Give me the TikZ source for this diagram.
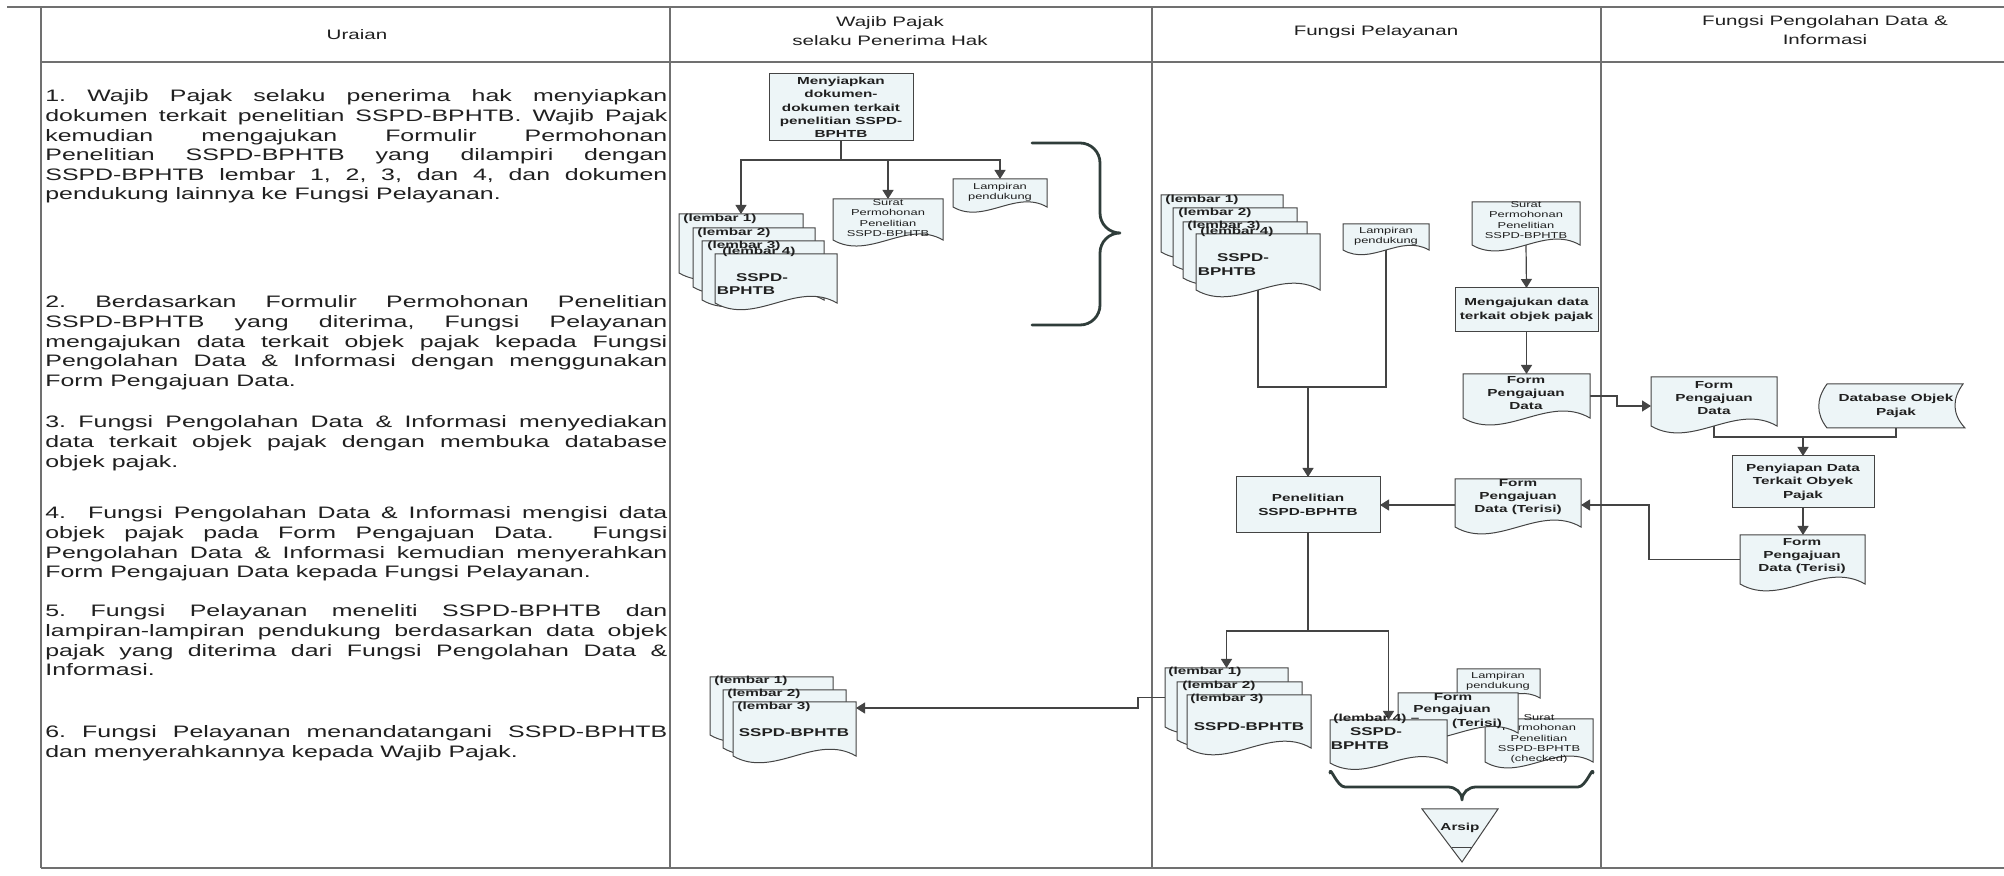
\documentclass[tikz,border=0pt]{standalone}
\usepackage{fontspec}
\setmainfont{Liberation Sans}[FakeStretch=1.5]
\usetikzlibrary{arrows.meta,calc}
\pgfdeclarelayer{bgfill}
\pgfdeclarelayer{background}
\pgfsetlayers{bgfill,background,main}
\definecolor{lncol}{HTML}{444444}
\definecolor{tbl}{HTML}{707070}
\definecolor{boxfill}{HTML}{EDF5F7}
\definecolor{txt}{HTML}{202020}
\definecolor{brc}{HTML}{2F3D3A}
\hbadness=10000 \hfuzz=60pt
\frenchspacing
\newcommand\bodyf{\fontsize{8.3pt}{9.8pt}\selectfont}
\newcommand\headf{\fontsize{6.85pt}{9.5pt}\selectfont}
\newcommand\boxf{\bfseries\fontsize{5.1pt}{6.7pt}\selectfont}
\newcommand\labf{\bfseries\fontsize{5.1pt}{6pt}\selectfont}
\newcommand\ssf{\bfseries\fontsize{5.65pt}{6.8pt}\selectfont}
\newcommand\smf{\fontsize{4.3pt}{5.2pt}\selectfont}
\newlength\colw \setlength\colw{311pt}
\newcommand\jline[1]{\hbox to \colw{#1}}
\newcommand\lline[1]{\hbox to \colw{#1\hfil}}
\newcommand\parablock[1]{\vtop{\baselineskip=9.8pt\lineskiplimit=-20pt #1}}
% rectangle process box
\newcommand\rbox[6]{\node[boxst, minimum width={(#4-#2)*0.5pt}, minimum height={(#5-#3)*0.5pt}] (#1) at ({(#2+#4)/2},{(#3+#5)/2}) {#6};}
% document shape (wavy bottom) with an empty named node covering its rectangle
\newcommand\docn[5]{%
  \filldraw[docst] (#2,#3) -- (#4,#3) -- (#4,#5) .. controls ({#2+0.67*(#4-#2)},{#5-0.19*(#4-#2)}) and ({#2+0.33*(#4-#2)},{#5+0.19*(#4-#2)}) .. (#2,#5) -- cycle;
  \node[inner sep=0, outer sep=0, minimum width={(#4-#2)*0.5pt}, minimum height={(#5-#3)*0.5pt}] (#1) at ({(#2+#4)/2},{(#3+#5)/2}) {};}
\tikzset{
  ln/.style={draw=lncol, line width=0.6pt},
  arr/.style={ln, -{Triangle[length=4.5pt,width=5.5pt]}},
  docst/.style={draw=lncol, line width=0.5pt, fill=boxfill},
  boxst/.style={draw=lncol, line width=0.5pt, fill=boxfill, inner sep=0, outer sep=0, align=center, text=txt, font=\boxf},
  tb/.style={inner sep=0, align=center, text=txt, font=\boxf},
  lb/.style={inner sep=0, anchor=west, text=txt, font=\labf},
  ss/.style={inner sep=0, text=txt, font=\ssf},
  sm/.style={inner sep=0, align=center, text=txt, font=\smf},
  hd/.style={inner sep=0, align=center, text=txt, font=\headf},
  ut/.style={inner sep=0, anchor=base west, text=txt, font=\bodyf},
  bracest/.style={draw=brc, line width=1.4pt, line cap=round, line join=round},
}
\begin{document}
\begin{tikzpicture}[x=0.5pt,y=-0.5pt]
\useasboundingbox (0,0) rectangle (2004,876);
\begin{pgfonlayer}{bgfill}
\fill[white] (0,0) rectangle (2004,876);
\end{pgfonlayer}

% ---------- header ----------
\node[hd] (h1) at (357,35) {Uraian};
\node[hd] (h2) at (890,31) {Wajib Pajak\\selaku Penerima Hak};
\node[hd] (h3) at (1376,32) {Fungsi Pelayanan};
\node[hd] (h4) at (1825,30) {Fungsi Pengolahan Data \&\\Informasi};

% ---------- Uraian ----------
\node[ut] (u1) at (45,102) {\parablock{%
\jline{1. Wajib Pajak selaku penerima hak menyiapkan}
\jline{dokumen terkait penelitian SSPD-BPHTB. Wajib Pajak}
\jline{kemudian mengajukan Formulir Permohonan}
\jline{Penelitian SSPD-BPHTB yang dilampiri dengan}
\jline{SSPD-BPHTB lembar 1, 2, 3, dan 4, dan dokumen}
\lline{pendukung lainnya ke Fungsi Pelayanan.}}};
\node[ut] (u2) at (45,308) {\parablock{%
\jline{2. Berdasarkan Formulir Permohonan Penelitian}
\jline{SSPD-BPHTB yang diterima, Fungsi Pelayanan}
\jline{mengajukan data terkait objek pajak kepada Fungsi}
\jline{Pengolahan Data \& Informasi dengan menggunakan}
\lline{Form Pengajuan Data.}}};
\node[ut] (u3) at (45,428) {\parablock{%
\jline{3. Fungsi Pengolahan Data \& Informasi menyediakan}
\jline{data terkait objek pajak dengan membuka database}
\lline{objek pajak.}}};
\node[ut] (u4) at (45,519) {\parablock{%
\jline{4.\ \ Fungsi Pengolahan Data \& Informasi mengisi data}
\jline{objek pajak pada Form Pengajuan Data.\ \ Fungsi}
\jline{Pengolahan Data \& Informasi kemudian menyerahkan}
\lline{Form Pengajuan Data kepada Fungsi Pelayanan.}}};
\node[ut] (u5) at (45,617) {\parablock{%
\jline{5. Fungsi Pelayanan meneliti SSPD-BPHTB dan}
\jline{lampiran-lampiran pendukung berdasarkan data objek}
\jline{pajak yang diterima dari Fungsi Pengolahan Data \&}
\lline{Informasi.}}};
\node[ut] (u6) at (45,738) {\parablock{%
\jline{6. Fungsi Pelayanan menandatangani SSPD-BPHTB}
\lline{dan menyerahkannya kepada Wajib Pajak.}}};

% ---------- Wajib Pajak (top) ----------
\rbox{prep}{769}{74}{913}{141}{Menyiapkan\\dokumen-\\dokumen terkait\\penelitian SSPD-\\BPHTB}
\docn{w1}{679}{214}{803}{273}
\node[lb] (w1t) at (683,219) {(lembar 1)};
\docn{w2}{693}{228}{815}{287}
\node[lb] (w2t) at (697,233) {(lembar 2)};
\docn{w3}{702}{241}{824}{300}
\node[lb] (w3t) at (707,246) {(lembar 3)};
\docn{w4}{715}{254}{837}{303}
\node[lb] (w4t) at (722,252) {(lembar 4)};
\node[ss] (w4a) at (762,278) {SSPD-};
\node[ss] (w4b) at (746,291) {BPHTB};
\docn{wsurat}{833}{199}{943}{240}
\node[sm] (wsurat-t) at (888,218) {Surat\\Permohonan\\Penelitian\\SSPD-BPHTB};
\docn{wlamp}{953}{179}{1047}{207}
\node[sm] (wlamp-t) at (1000,192) {Lampiran\\pendukung};
\coordinate (wj) at (841,160);
\draw[bracest] (1032,143) -- (1080,143) to[out=0,in=90] (1100,163) -- (1100,213)
  to[out=-90,in=180] (1120,233) to[out=180,in=90] (1100,253) -- (1100,305)
  to[out=-90,in=0] (1080,325) -- (1032,325);

% ---------- Wajib Pajak (bottom) ----------
\docn{r1}{710}{677}{833}{735}
\node[lb] (r1t) at (714,681) {(lembar 1)};
\docn{r2}{723}{690}{846}{748}
\node[lb] (r2t) at (727,694) {(lembar 2)};
\docn{r3}{733}{702}{856}{756}
\node[lb] (r3t) at (737,707) {(lembar 3)};
\node[ss] (r3s) at (794,733) {SSPD-BPHTB};

% ---------- Fungsi Pelayanan (top) ----------
\docn{p1}{1161}{195}{1283}{252}
\node[lb] (p1t) at (1165,200) {(lembar 1)};
\docn{p2}{1173}{208}{1297}{265}
\node[lb] (p2t) at (1178,213) {(lembar 2)};
\docn{p3}{1183}{222}{1307}{278}
\node[lb] (p3t) at (1187,226) {(lembar 3)};
\docn{p4}{1196}{234}{1320}{290}
\node[lb] (p4t) at (1200,232) {(lembar 4)};
\node[ss] (p4a) at (1243,258) {SSPD-};
\node[ss] (p4b) at (1227,272) {BPHTB};
\docn{plamp}{1343}{224}{1429}{250}
\node[sm] (plamp-t) at (1386,236) {Lampiran\\pendukung};
\docn{psurat}{1472}{202}{1580}{245}
\node[sm] (psurat-t) at (1526,220) {Surat\\Permohonan\\Penelitian\\SSPD-BPHTB};
\rbox{paju}{1455}{288}{1598}{332}{Mengajukan data\\terkait objek pajak}
\docn{pform}{1463}{374}{1590}{418}
\node[tb] (pform-t) at (1526,393) {Form\\Pengajuan\\Data};
\rbox{pnel}{1236}{477}{1380}{533}{Penelitian\\SSPD-BPHTB}
\docn{pterisi}{1455}{479}{1581}{527}
\node[tb] (pterisi-t) at (1518,497) {Form\\Pengajuan\\Data (Terisi)};

% ---------- Fungsi Pengolahan ----------
\docn{oform}{1651}{377}{1777}{426}
\node[tb] (oform-t) at (1714,398) {Form\\Pengajuan\\Data};
\filldraw[docst] (1827,384) -- (1963,384) .. controls (1952,399) and (1952,414) .. (1965,428)
  -- (1827,428) .. controls (1816,414) and (1816,399) .. (1827,384) -- cycle;
\node[tb, minimum width=69pt, minimum height=22pt] (odb) at (1896,406) {Database Objek\\Pajak};
\rbox{oprep}{1732}{456}{1874}{508}{Penyiapan Data\\Terkait Obyek\\Pajak}
\docn{oterisi}{1740}{535}{1865}{584}
\node[tb] (oterisi-t) at (1802,556) {Form\\Pengajuan\\Data (Terisi)};

% ---------- Fungsi Pelayanan (bottom) ----------
\docn{b1}{1165}{668}{1288}{727}
\node[lb] (b1t) at (1168,672) {(lembar 1)};
\docn{b2}{1177}{682}{1302}{740}
\node[lb] (b2t) at (1182,686) {(lembar 2)};
\docn{b3}{1187}{695}{1311}{748}
\node[lb] (b3t) at (1190,699) {(lembar 3)};
\node[ss] (b3s) at (1249,727) {SSPD-BPHTB};
\docn{blamp}{1457}{669}{1540}{698}
\node[sm] (blamp-t) at (1498,681.5) {Lampiran\\pendukung};
\docn{bsurat}{1485}{719}{1593}{762}
\node[sm] (bsurat-t) at (1539,739) {Surat\\Permohonan\\Penelitian\\SSPD-BPHTB\\(checked)};
\docn{bform}{1398}{693}{1518}{733}
\node[tb] (bform-a) at (1453,697) {Form};
\node[tb] (bform-b) at (1452,710) {Pengajuan};
\node[tb] (bform-c) at (1477,724) {(Terisi)};
\docn{b4}{1330}{720}{1447}{763}
\node[lb] (b4t) at (1333,719) {(lembar 4) --};
\node[ss] (b4a) at (1376,732) {SSPD-};
\node[ss] (b4b) at (1360,746) {BPHTB};
\draw[bracest] (1330,773) to[out=90,in=180] (1345,787) -- (1448,787) to[out=0,in=90] (1462,800)
  to[out=90,in=180] (1476,787) -- (1578,787) to[out=0,in=90] (1593,773);
\filldraw[docst] (1422,809) -- (1498,809) -- (1462,862) -- cycle;
\draw[lncol, line width=0.5pt] (1452,848) -- (1472,848);
\node[tb] (arsip) at (1460,828) {Arsip};

% ---------- coordinates for bends ----------
\coordinate (pj) at (1308,387);
\coordinate (fk) at (1617,406);
\coordinate (oj) at (1803,437);
\coordinate (tk) at (1649,505);
\coordinate (pk) at (1308,631);
\coordinate (bk) at (1138,708);

% ---------- table and connectors (behind) ----------
\begin{pgfonlayer}{background}
\draw[tbl, line width=1.1pt] (7,7) -- (2004,7);
\draw[tbl, line width=0.8pt] (41,62) -- (2004,62);
\draw[tbl, line width=0.8pt] (41,868) -- (2004,868);
\foreach \x in {41,670,1152,1601} \draw[tbl, line width=0.7pt] (\x,7) -- (\x,868);

\draw[ln] (prep.south) -- (wj);
\draw[arr] (wj) -| (w1.north);
\draw[arr] (wj) -| (wsurat.north);
\draw[arr] (wj) -| (wlamp.north);

\draw[ln] (p4.south) |- (pj) -| (plamp.south);
\draw[arr] (pj) -- (pnel.north);
\draw[arr] (psurat.south) -- (paju.north);
\draw[arr] (paju.south) -- (pform.north);
\draw[arr] (pform.east) -| (fk) -- (oform.west |- fk);
\draw[ln] (oform.south) |- (oj) -| (odb.south);
\draw[arr] (oj) -- (oprep.north);
\draw[arr] (oprep.south) -- (oprep.south |- oterisi.north);
\draw[arr] (oterisi.west) -| (tk) -- (pterisi.east |- tk);
\draw[arr] (pterisi.west |- tk) -- (pnel.east |- tk);
\draw[ln] (pnel.south) -- (pk);
\draw[arr] (pk) -| (b1.north);
\draw[arr] (pk) -| (b4.north);
\draw[arr] (b1.west) -| (bk) -- (r3.east |- bk);
\end{pgfonlayer}
\end{tikzpicture}
\end{document}
